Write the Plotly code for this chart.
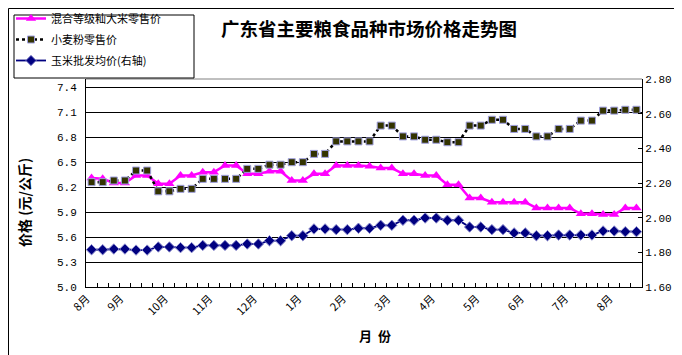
import plotly.graph_objects as go

W, H = 682, 355
L, R, T, B = 78, 634, 71, 279  # plot area in pixels

months = ["8月", "9月", "10月", "11月", "12月", "1月", "2月", "3月", "4月", "5月", "6月", "7月", "8月"]

rice = [6.31, 6.30, 6.25, 6.25, 6.34, 6.34, 6.24, 6.24, 6.34, 6.34,
        6.38, 6.38, 6.46, 6.46, 6.36, 6.36, 6.39, 6.39, 6.28, 6.28,
        6.36, 6.36, 6.46, 6.46, 6.46, 6.45, 6.43, 6.43, 6.36, 6.36,
        6.34, 6.34, 6.23, 6.23, 6.07, 6.07, 6.02, 6.02, 6.02, 6.02,
        5.95, 5.95, 5.95, 5.95, 5.88, 5.88, 5.87, 5.87, 5.95, 5.95]

wheat = [6.26, 6.26, 6.28, 6.28, 6.40, 6.40, 6.15, 6.15, 6.18, 6.18,
         6.30, 6.30, 6.30, 6.30, 6.42, 6.42, 6.47, 6.47, 6.50, 6.50,
         6.60, 6.60, 6.75, 6.75, 6.75, 6.75, 6.94, 6.94, 6.81, 6.81,
         6.77, 6.77, 6.74, 6.74, 6.94, 6.94, 7.01, 7.01, 6.90, 6.90,
         6.81, 6.81, 6.90, 6.90, 7.00, 7.00, 7.12, 7.12, 7.13, 7.13]

corn = [1.815, 1.815, 1.819, 1.819, 1.813, 1.813, 1.831, 1.831, 1.827, 1.827,
        1.840, 1.840, 1.840, 1.840, 1.848, 1.848, 1.867, 1.867, 1.896, 1.896,
        1.935, 1.935, 1.931, 1.931, 1.939, 1.939, 1.956, 1.956, 1.985, 1.985,
        1.998, 1.998, 1.985, 1.985, 1.946, 1.946, 1.931, 1.931, 1.912, 1.912,
        1.896, 1.896, 1.900, 1.900, 1.900, 1.900, 1.923, 1.923, 1.919, 1.919]

left_ticks = [5.0, 5.3, 5.6, 5.9, 6.2, 6.5, 6.8, 7.1, 7.4]

names = ["混合等级籼大米零售价", "小麦粉零售价", "玉米批发均价(右轴)"]

x = list(range(len(rice)))


def px(xp):
    return (xp - L) / (R - L)


def py(yp):
    return (B - yp) / (B - T)


CJK = "Noto Sans CJK SC"
NUM = "Liberation Mono"

# month label positions: slightly left of each 4th category (as in the original layout)
label_pos = [max(i * 4 - 1.4, -0.45) for i in range(len(months))]

fig = go.Figure()
fig.add_trace(go.Scatter(
    x=x, y=rice, name=names[0], mode="lines+markers", legendgroup="a",
    line=dict(color="#FF00FF", width=2.5),
    marker=dict(symbol="triangle-up", size=9, color="#FF00FF", line=dict(width=0)),
))
fig.add_trace(go.Scatter(
    x=x, y=wheat, name=names[1], mode="lines+markers", legendgroup="b",
    line=dict(color="#000000", width=2.5, dash="dot"),
    marker=dict(symbol="square", size=7, color="#333300", line=dict(color="#A0A0E0", width=1)),
))
fig.add_trace(go.Scatter(
    x=x, y=corn, name=names[2], mode="lines+markers", yaxis="y2", legendgroup="c",
    line=dict(color="#000080", width=1.8),
    marker=dict(symbol="diamond", size=8, color="#000080", line=dict(color="#8888CC", width=1)),
))

fig.update_layout(
    width=W, height=H,
    margin=dict(l=L, r=W - R, t=T, b=H - B, autoexpand=False),
    paper_bgcolor="white", plot_bgcolor="white",
    font=dict(family=CJK, size=11, color="black"),
    title=dict(text="<b>广东省主要粮食品种市场价格走势图</b>", font=dict(family=CJK, size=18.5, color="black"),
               x=361 / W, xref="container", xanchor="center",
               y=1 - 22 / H, yref="container", yanchor="middle"),
    showlegend=True,
    legend=dict(x=px(3), y=py(-4), xanchor="left", yanchor="top",
                bgcolor="rgba(0,0,0,0)", borderwidth=0, tracegroupgap=2,
                font=dict(family=CJK, size=11, color="black"),
                traceorder="grouped"),
    xaxis=dict(range=[-0.5, len(x) - 0.5], tickmode="array",
               tickvals=label_pos, ticktext=months,
               tickangle=-45, ticks="", showgrid=False, zeroline=False,
               showline=True, linecolor="black", linewidth=1,
               tickfont=dict(family=CJK, size=11, color="black"),
               minor=dict(tickmode="array", tickvals=[k - 0.5 for k in range(1, len(x))],
                          ticks="inside", ticklen=4, tickcolor="black", tickwidth=1, showgrid=False)),
    yaxis=dict(range=[5.0, 7.5], tickmode="array", tickvals=left_ticks,
               ticktext=[f"{v:.1f}" for v in left_ticks],
               showgrid=True, gridcolor="black", gridwidth=1, zeroline=False,
               showline=True, linecolor="black", linewidth=1, ticks="",
               ticklabelstandoff=6,
               tickfont=dict(family=NUM, size=11, color="black")),
    yaxis2=dict(range=[1.6, 2.8], overlaying="y", side="right", tick0=1.6, dtick=0.2,
                tickformat=".2f", showgrid=False, zeroline=False,
                showline=True, linecolor="black", linewidth=1,
                ticks="inside", ticklen=4, tickcolor="black",
                tickfont=dict(family=NUM, size=11, color="black")),
    shapes=[
        dict(type="line", xref="paper", yref="paper", x0=0, x1=1, y0=1, y1=1,
             line=dict(color="#808080", width=1)),
        dict(type="rect", xref="paper", yref="paper", x0=px(6), x1=px(186), y0=py(70), y1=py(7),
             line=dict(color="black", width=1), fillcolor="rgba(0,0,0,0)", layer="above"),
        dict(type="rect", xref="paper", yref="paper", x0=px(0.5), x1=px(681.5), y0=py(354.5), y1=py(0.5),
             line=dict(color="black", width=1), fillcolor="rgba(0,0,0,0)"),
    ],
    annotations=[
        dict(text="<b>价格 (元/公斤)</b>", xref="paper", yref="paper", x=px(16), y=py(195),
             textangle=-90, showarrow=False, font=dict(family=CJK, size=14, color="black"),
             xanchor="center", yanchor="middle"),
        dict(text="<b>月  份</b>", xref="paper", yref="paper", x=px(367), y=py(327),
             showarrow=False, font=dict(family=CJK, size=13, color="black"),
             xanchor="center", yanchor="middle"),
    ],
)

fig.write_html("out.html")
